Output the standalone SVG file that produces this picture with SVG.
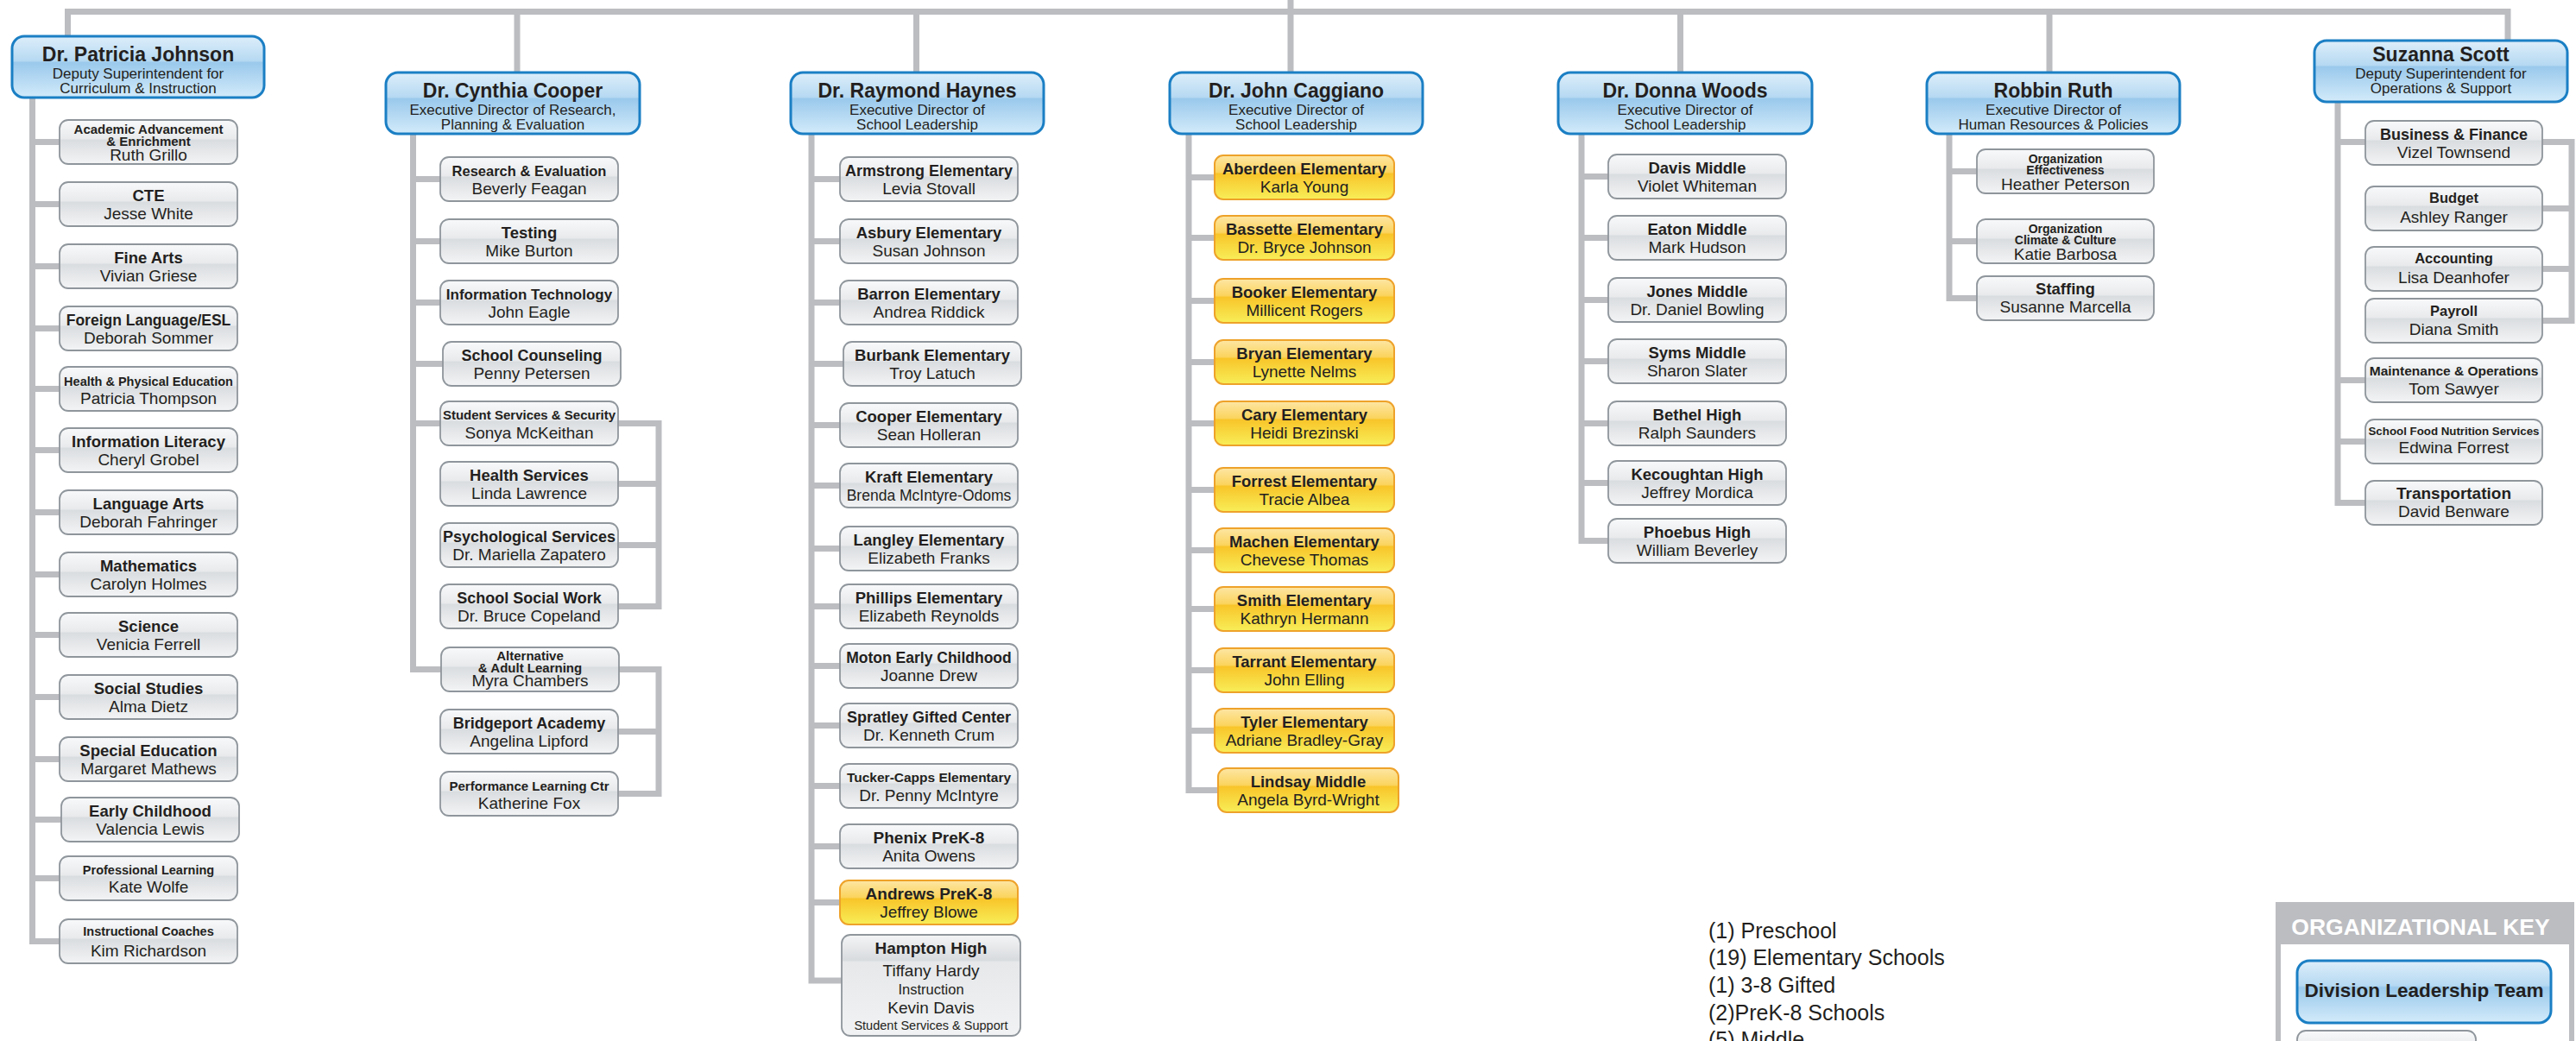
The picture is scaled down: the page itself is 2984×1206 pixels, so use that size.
<svg xmlns="http://www.w3.org/2000/svg" width="2984" height="1206" viewBox="0 0 2984 1206">
<defs>
<linearGradient id="gGray" x1="0" y1="0" x2="0" y2="1">
<stop offset="0" stop-color="#f8f9fa"/><stop offset="0.42" stop-color="#e8eaec"/><stop offset="0.46" stop-color="#dadde0"/><stop offset="1" stop-color="#f3f4f5"/>
</linearGradient>
<linearGradient id="gYel" x1="0" y1="0" x2="0" y2="1">
<stop offset="0" stop-color="#fde6a4"/><stop offset="0.38" stop-color="#fbd45e"/><stop offset="0.42" stop-color="#f8c52a"/><stop offset="1" stop-color="#f8ee58"/>
</linearGradient>
<linearGradient id="gBlue" x1="0" y1="0" x2="0" y2="1">
<stop offset="0" stop-color="#ddeefa"/><stop offset="0.4" stop-color="#b6d9f2"/><stop offset="0.43" stop-color="#9ac9ec"/><stop offset="1" stop-color="#d3ebfa"/>
</linearGradient>
<linearGradient id="gHamp" x1="0" y1="0" x2="0" y2="1">
<stop offset="0" stop-color="#f4f5f6"/><stop offset="0.25" stop-color="#d8dbde"/><stop offset="0.27" stop-color="#e6e8ea"/><stop offset="1" stop-color="#f1f2f3"/>
</linearGradient>
<style>
.ln{fill:none;stroke:#bcbdc1;stroke-width:7;stroke-linejoin:miter;stroke-linecap:butt}
.b{fill:url(#gBlue);stroke:#1b7fc4;stroke-width:3}
.g{fill:url(#gGray);stroke:#8f969c;stroke-width:1.8}
.y{fill:url(#gYel);stroke:#eea22a;stroke-width:2}
.h{fill:url(#gHamp);stroke:#8f969c;stroke-width:1.8}
text{font-family:"Liberation Sans",Arial,sans-serif;fill:#231f20;text-anchor:middle}
.dn{font-size:23px;font-weight:bold}
.ds{font-size:17px}
.t{font-size:18.5px;font-weight:bold}
.ts{font-size:15px;font-weight:bold}
.tx{font-size:14px;font-weight:bold}
.n{font-size:19px}
.leg{font-size:25px;text-anchor:start}
</style>
</defs>
<rect width="2984" height="1206" fill="#ffffff"/>

<g id="connectors">
<path class="ln" d="M78.5,42 V13.5 H2905 V47"/>
<path class="ln" d="M599,13.5 V84 M1061.5,13.5 V84 M1495,0 V84 M1946.5,13.5 V84 M2374,13.5 V84"/>
<path class="ln" d="M37.5,113 V1090.5 H69 M34,164.5 H69 M34,236.5 H69 M34,308.5 H69 M34,380.5 H69 M34,450.5 H69 M34,521.5 H69 M34,593.5 H69 M34,665.5 H69 M34,735.5 H69 M34,807.5 H69 M34,879.5 H69 M34,949.5 H71 M34,1017.5 H69"/>
<path class="ln" d="M478.5,155 V775.5 H511 M475,207.5 H510 M475,279.5 H510 M475,350.5 H510 M475,421.5 H513 M475,490.5 H510"/>
<path class="ln" d="M716,490.5 H763 V702.5 H716 M716,560.5 H763 M716,631.5 H763 M716,775.5 H763 V919.5 H716 M716,847.5 H763"/>
<path class="ln" d="M940,155 V1136 H975 M936.5,207.5 H973 M936.5,279.5 H973 M936.5,350.5 H973 M936.5,421.5 H977 M936.5,492.5 H973 M936.5,562.5 H973 M936.5,635.5 H973 M936.5,702.5 H973 M936.5,771.5 H973 M936.5,840.5 H973 M936.5,910.5 H973 M936.5,980.5 H973 M936.5,1045.5 H973"/>
<path class="ln" d="M1377,155 V915.5 H1411 M1373.5,205.5 H1407 M1373.5,275.5 H1407 M1373.5,348.5 H1407 M1373.5,419.5 H1407 M1373.5,490.5 H1407 M1373.5,567.5 H1407 M1373.5,637.5 H1407 M1373.5,705.5 H1407 M1373.5,776.5 H1407 M1373.5,846.5 H1407"/>
<path class="ln" d="M1832,155 V626.5 H1863 M1828.5,204.5 H1863 M1828.5,275.5 H1863 M1828.5,347.5 H1863 M1828.5,418.5 H1863 M1828.5,490.5 H1863 M1828.5,559.5 H1863"/>
<path class="ln" d="M2258,155 V345.5 H2290 M2254.5,198.5 H2290 M2254.5,279.5 H2290"/>
<path class="ln" d="M2708,118 V582.5 H2740 M2704.5,164.5 H2740 M2704.5,440.5 H2740 M2704.5,511.5 H2740"/>
<path class="ln" d="M2945,164.5 H2979 V371.5 H2945 M2945,241.5 H2979 M2945,311.5 H2979"/>
</g>

<g id="n-patricia-johnson"><rect class="b" x="14" y="42" width="292" height="71" rx="14"/><text class="dn" x="160" y="71">Dr. Patricia Johnson</text><text class="ds" x="160" y="91">Deputy Superintendent for</text><text class="ds" x="160" y="108">Curriculum &amp; Instruction</text></g>
<g id="n-cynthia-cooper"><rect class="b" x="447" y="84" width="294" height="71" rx="14"/><text class="dn" x="594" y="113">Dr. Cynthia Cooper</text><text class="ds" x="594" y="133">Executive Director of Research,</text><text class="ds" x="594" y="150">Planning &amp; Evaluation</text></g>
<g id="n-raymond-haynes"><rect class="b" x="916" y="84" width="293" height="71" rx="14"/><text class="dn" x="1062.5" y="113">Dr. Raymond Haynes</text><text class="ds" x="1062.5" y="133">Executive Director of</text><text class="ds" x="1062.5" y="150">School Leadership</text></g>
<g id="n-john-caggiano"><rect class="b" x="1355" y="84" width="293" height="71" rx="14"/><text class="dn" x="1501.5" y="113">Dr. John Caggiano</text><text class="ds" x="1501.5" y="133">Executive Director of</text><text class="ds" x="1501.5" y="150">School Leadership</text></g>
<g id="n-donna-woods"><rect class="b" x="1805" y="84" width="294" height="71" rx="14"/><text class="dn" x="1952" y="113">Dr. Donna Woods</text><text class="ds" x="1952" y="133">Executive Director of</text><text class="ds" x="1952" y="150">School Leadership</text></g>
<g id="n-robbin-ruth"><rect class="b" x="2232" y="84" width="293" height="71" rx="14"/><text class="dn" x="2378.5" y="113">Robbin Ruth</text><text class="ds" x="2378.5" y="133">Executive Director of</text><text class="ds" x="2378.5" y="150">Human Resources &amp; Policies</text></g>
<g id="n-suzanna-scott"><rect class="b" x="2681" y="47" width="293" height="71" rx="14"/><text class="dn" x="2827.5" y="71">Suzanna Scott</text><text class="ds" x="2827.5" y="91">Deputy Superintendent for</text><text class="ds" x="2827.5" y="108">Operations &amp; Support</text></g>

<g id="n-academic"><rect class="g" x="69" y="139" width="206" height="51" rx="10"/><text class="ts" x="172" y="155">Academic Advancement</text><text class="ts" x="172" y="169">&amp; Enrichment</text><text class="n" x="172" y="186">Ruth Grillo</text></g>
<g id="n-cte"><rect class="g" x="69" y="211" width="206" height="51" rx="10"/><text class="t" x="172" y="233">CTE</text><text class="n" x="172" y="254">Jesse White</text></g>
<g id="n-fine-arts"><rect class="g" x="69" y="283" width="206" height="51" rx="10"/><text class="t" x="172" y="305">Fine Arts</text><text class="n" x="172" y="326">Vivian Griese</text></g>
<g id="n-foreign-language"><rect class="g" x="69" y="355" width="206" height="51" rx="10"/><text class="t" x="172" y="377" style="font-size:17.5px">Foreign Language/ESL</text><text class="n" x="172" y="398">Deborah Sommer</text></g>
<g id="n-health-pe"><rect class="g" x="69" y="425" width="206" height="51" rx="10"/><text class="t" x="172" y="447" style="font-size:14.5px">Health &amp; Physical Education</text><text class="n" x="172" y="468">Patricia Thompson</text></g>
<g id="n-info-literacy"><rect class="g" x="69" y="496" width="206" height="51" rx="10"/><text class="t" x="172" y="518">Information Literacy</text><text class="n" x="172" y="539">Cheryl Grobel</text></g>
<g id="n-language-arts"><rect class="g" x="69" y="568" width="206" height="51" rx="10"/><text class="t" x="172" y="590">Language Arts</text><text class="n" x="172" y="611">Deborah Fahringer</text></g>
<g id="n-mathematics"><rect class="g" x="69" y="640" width="206" height="51" rx="10"/><text class="t" x="172" y="662">Mathematics</text><text class="n" x="172" y="683">Carolyn Holmes</text></g>
<g id="n-science"><rect class="g" x="69" y="710" width="206" height="51" rx="10"/><text class="t" x="172" y="732">Science</text><text class="n" x="172" y="753">Venicia Ferrell</text></g>
<g id="n-social-studies"><rect class="g" x="69" y="782" width="206" height="51" rx="10"/><text class="t" x="172" y="804">Social Studies</text><text class="n" x="172" y="825">Alma Dietz</text></g>
<g id="n-special-education"><rect class="g" x="69" y="854" width="206" height="51" rx="10"/><text class="t" x="172" y="876">Special Education</text><text class="n" x="172" y="897">Margaret Mathews</text></g>
<g id="n-early-childhood"><rect class="g" x="71" y="924" width="206" height="51" rx="10"/><text class="t" x="174" y="946">Early Childhood</text><text class="n" x="174" y="967">Valencia Lewis</text></g>
<g id="n-professional-learning"><rect class="g" x="69" y="992" width="206" height="51" rx="10"/><text class="t" x="172" y="1013" style="font-size:14.5px">Professional Learning</text><text class="n" x="172" y="1034">Kate Wolfe</text></g>
<g id="n-instructional-coaches"><rect class="g" x="69" y="1065" width="206" height="51" rx="10"/><text class="t" x="172" y="1084" style="font-size:14.5px">Instructional Coaches</text><text class="n" x="172" y="1108">Kim Richardson</text></g>

<g id="n-research"><rect class="g" x="510" y="182" width="206" height="51" rx="10"/><text class="t" x="613" y="204" style="font-size:16.5px">Research &amp; Evaluation</text><text class="n" x="613" y="225">Beverly Feagan</text></g>
<g id="n-testing"><rect class="g" x="510" y="254" width="206" height="51" rx="10"/><text class="t" x="613" y="276">Testing</text><text class="n" x="613" y="297">Mike Burton</text></g>
<g id="n-info-tech"><rect class="g" x="510" y="325" width="206" height="51" rx="10"/><text class="t" x="613" y="347" style="font-size:17px">Information Technology</text><text class="n" x="613" y="368">John Eagle</text></g>
<g id="n-counseling"><rect class="g" x="513" y="396" width="206" height="51" rx="10"/><text class="t" x="616" y="418" style="font-size:18px">School Counseling</text><text class="n" x="616" y="439">Penny Petersen</text></g>
<g id="n-student-services"><rect class="g" x="510" y="465" width="206" height="51" rx="10"/><text class="t" x="613" y="486" style="font-size:15px">Student Services &amp; Security</text><text class="n" x="613" y="508">Sonya McKeithan</text></g>
<g id="n-health-services"><rect class="g" x="510" y="535" width="206" height="51" rx="10"/><text class="t" x="613" y="557">Health Services</text><text class="n" x="613" y="578">Linda Lawrence</text></g>
<g id="n-psychological"><rect class="g" x="510" y="606" width="206" height="51" rx="10"/><text class="t" x="613" y="628" style="font-size:18px">Psychological Services</text><text class="n" x="613" y="649">Dr. Mariella Zapatero</text></g>
<g id="n-social-work"><rect class="g" x="510" y="677" width="206" height="51" rx="10"/><text class="t" x="613" y="699" style="font-size:18px">School Social Work</text><text class="n" x="613" y="720">Dr. Bruce Copeland</text></g>
<g id="n-alternative"><rect class="g" x="511" y="750" width="206" height="51" rx="10"/><text class="ts" x="614" y="764.5">Alternative</text><text class="ts" x="614" y="778.5">&amp; Adult Learning</text><text class="n" x="614" y="795">Myra Chambers</text></g>
<g id="n-bridgeport"><rect class="g" x="510" y="822" width="206" height="51" rx="10"/><text class="t" x="613" y="844" style="font-size:18px">Bridgeport Academy</text><text class="n" x="613" y="865">Angelina Lipford</text></g>
<g id="n-performance"><rect class="g" x="510" y="894" width="206" height="51" rx="10"/><text class="t" x="613" y="916" style="font-size:15px">Performance Learning Ctr</text><text class="n" x="613" y="937">Katherine Fox</text></g>

<g id="n-armstrong"><rect class="g" x="973" y="182" width="206" height="51" rx="10"/><text class="t" x="1076" y="204" style="font-size:18px">Armstrong Elementary</text><text class="n" x="1076" y="225">Levia Stovall</text></g>
<g id="n-asbury"><rect class="g" x="973" y="254" width="206" height="51" rx="10"/><text class="t" x="1076" y="276">Asbury Elementary</text><text class="n" x="1076" y="297">Susan Johnson</text></g>
<g id="n-barron"><rect class="g" x="973" y="325" width="206" height="51" rx="10"/><text class="t" x="1076" y="347">Barron Elementary</text><text class="n" x="1076" y="368">Andrea Riddick</text></g>
<g id="n-burbank"><rect class="g" x="977" y="396" width="206" height="51" rx="10"/><text class="t" x="1080" y="418">Burbank Elementary</text><text class="n" x="1080" y="439">Troy Latuch</text></g>
<g id="n-cooper-elem"><rect class="g" x="973" y="467" width="206" height="51" rx="10"/><text class="t" x="1076" y="489">Cooper Elementary</text><text class="n" x="1076" y="510">Sean Holleran</text></g>
<g id="n-kraft"><rect class="g" x="973" y="537" width="206" height="51" rx="10"/><text class="t" x="1076" y="559">Kraft Elementary</text><text class="n" x="1076" y="580" style="font-size:17.5px">Brenda McIntyre-Odoms</text></g>
<g id="n-langley"><rect class="g" x="973" y="610" width="206" height="51" rx="10"/><text class="t" x="1076" y="632">Langley Elementary</text><text class="n" x="1076" y="653">Elizabeth Franks</text></g>
<g id="n-phillips"><rect class="g" x="973" y="677" width="206" height="51" rx="10"/><text class="t" x="1076" y="699">Phillips Elementary</text><text class="n" x="1076" y="720">Elizabeth Reynolds</text></g>
<g id="n-moton"><rect class="g" x="973" y="746" width="206" height="51" rx="10"/><text class="t" x="1076" y="768" style="font-size:17.5px">Moton Early Childhood</text><text class="n" x="1076" y="789">Joanne Drew</text></g>
<g id="n-spratley"><rect class="g" x="973" y="815" width="206" height="51" rx="10"/><text class="t" x="1076" y="837" style="font-size:18px">Spratley Gifted Center</text><text class="n" x="1076" y="858">Dr. Kenneth Crum</text></g>
<g id="n-tucker-capps"><rect class="g" x="973" y="885" width="206" height="51" rx="10"/><text class="t" x="1076" y="906" style="font-size:15.5px">Tucker-Capps Elementary</text><text class="n" x="1076" y="928">Dr. Penny McIntyre</text></g>
<g id="n-phenix"><rect class="g" x="973" y="955" width="206" height="51" rx="10"/><text class="t" x="1076" y="977" style="font-size:19px">Phenix PreK-8</text><text class="n" x="1076" y="998">Anita Owens</text></g>
<g id="n-andrews"><rect class="y" x="973" y="1020" width="206" height="51" rx="10"/><text class="t" x="1076" y="1042" style="font-size:19px">Andrews PreK-8</text><text class="n" x="1076" y="1063">Jeffrey Blowe</text></g>
<g id="n-hampton"><rect class="h" x="975" y="1083" width="207" height="117" rx="10"/><text class="t" x="1078.5" y="1104.5" style="font-size:19px">Hampton High</text><text class="n" x="1078.5" y="1131">Tiffany Hardy</text><text class="n" x="1078.5" y="1152" style="font-size:16.5px">Instruction</text><text class="n" x="1078.5" y="1174">Kevin Davis</text><text class="n" x="1078.5" y="1193" style="font-size:14.5px">Student Services &amp; Support</text></g>

<g id="n-aberdeen"><rect class="y" x="1407" y="180" width="208" height="51" rx="10"/><text class="t" x="1511" y="202">Aberdeen Elementary</text><text class="n" x="1511" y="223">Karla Young</text></g>
<g id="n-bassette"><rect class="y" x="1407" y="250" width="208" height="51" rx="10"/><text class="t" x="1511" y="272">Bassette Elementary</text><text class="n" x="1511" y="293">Dr. Bryce Johnson</text></g>
<g id="n-booker"><rect class="y" x="1407" y="323" width="208" height="51" rx="10"/><text class="t" x="1511" y="345">Booker Elementary</text><text class="n" x="1511" y="366">Millicent Rogers</text></g>
<g id="n-bryan"><rect class="y" x="1407" y="394" width="208" height="51" rx="10"/><text class="t" x="1511" y="416">Bryan Elementary</text><text class="n" x="1511" y="437">Lynette Nelms</text></g>
<g id="n-cary"><rect class="y" x="1407" y="465" width="208" height="51" rx="10"/><text class="t" x="1511" y="487">Cary Elementary</text><text class="n" x="1511" y="508">Heidi Brezinski</text></g>
<g id="n-forrest"><rect class="y" x="1407" y="542" width="208" height="51" rx="10"/><text class="t" x="1511" y="564">Forrest Elementary</text><text class="n" x="1511" y="585">Tracie Albea</text></g>
<g id="n-machen"><rect class="y" x="1407" y="612" width="208" height="51" rx="10"/><text class="t" x="1511" y="634">Machen Elementary</text><text class="n" x="1511" y="655">Chevese Thomas</text></g>
<g id="n-smith"><rect class="y" x="1407" y="680" width="208" height="51" rx="10"/><text class="t" x="1511" y="702">Smith Elementary</text><text class="n" x="1511" y="723">Kathryn Hermann</text></g>
<g id="n-tarrant"><rect class="y" x="1407" y="751" width="208" height="51" rx="10"/><text class="t" x="1511" y="773">Tarrant Elementary</text><text class="n" x="1511" y="794">John Elling</text></g>
<g id="n-tyler"><rect class="y" x="1407" y="821" width="208" height="51" rx="10"/><text class="t" x="1511" y="843">Tyler Elementary</text><text class="n" x="1511" y="864">Adriane Bradley-Gray</text></g>
<g id="n-lindsay"><rect class="y" x="1411" y="890" width="209" height="51" rx="10"/><text class="t" x="1515.5" y="912">Lindsay Middle</text><text class="n" x="1515.5" y="933">Angela Byrd-Wright</text></g>

<g id="n-davis"><rect class="g" x="1863" y="179" width="206" height="51" rx="10"/><text class="t" x="1966" y="201">Davis Middle</text><text class="n" x="1966" y="222">Violet Whiteman</text></g>
<g id="n-eaton"><rect class="g" x="1863" y="250" width="206" height="51" rx="10"/><text class="t" x="1966" y="272">Eaton Middle</text><text class="n" x="1966" y="293">Mark Hudson</text></g>
<g id="n-jones"><rect class="g" x="1863" y="322" width="206" height="51" rx="10"/><text class="t" x="1966" y="344">Jones Middle</text><text class="n" x="1966" y="365">Dr. Daniel Bowling</text></g>
<g id="n-syms"><rect class="g" x="1863" y="393" width="206" height="51" rx="10"/><text class="t" x="1966" y="415">Syms Middle</text><text class="n" x="1966" y="436">Sharon Slater</text></g>
<g id="n-bethel"><rect class="g" x="1863" y="465" width="206" height="51" rx="10"/><text class="t" x="1966" y="487">Bethel High</text><text class="n" x="1966" y="508">Ralph Saunders</text></g>
<g id="n-kecoughtan"><rect class="g" x="1863" y="534" width="206" height="51" rx="10"/><text class="t" x="1966" y="556">Kecoughtan High</text><text class="n" x="1966" y="577">Jeffrey Mordica</text></g>
<g id="n-phoebus"><rect class="g" x="1863" y="601" width="206" height="51" rx="10"/><text class="t" x="1966" y="623">Phoebus High</text><text class="n" x="1966" y="644">William Beverley</text></g>

<g id="n-org-effectiveness"><rect class="g" x="2290" y="173" width="205" height="51" rx="10"/><text class="tx" x="2392.5" y="189">Organization</text><text class="tx" x="2392.5" y="202">Effectiveness</text><text class="n" x="2392.5" y="220">Heather Peterson</text></g>
<g id="n-org-climate"><rect class="g" x="2290" y="254" width="205" height="51" rx="10"/><text class="tx" x="2392.5" y="270">Organization</text><text class="tx" x="2392.5" y="283">Climate &amp; Culture</text><text class="n" x="2392.5" y="301">Katie Barbosa</text></g>
<g id="n-staffing"><rect class="g" x="2290" y="320" width="205" height="51" rx="10"/><text class="t" x="2392.5" y="341">Staffing</text><text class="n" x="2392.5" y="362">Susanne Marcella</text></g>

<g id="n-business-finance"><rect class="g" x="2740" y="140" width="205" height="51" rx="10"/><text class="t" x="2842.5" y="162" style="font-size:18px">Business &amp; Finance</text><text class="n" x="2842.5" y="183">Vizel Townsend</text></g>
<g id="n-budget"><rect class="g" x="2740" y="216" width="205" height="51" rx="10"/><text class="t" x="2842.5" y="235" style="font-size:16.5px">Budget</text><text class="n" x="2842.5" y="258">Ashley Ranger</text></g>
<g id="n-accounting"><rect class="g" x="2740" y="286" width="205" height="51" rx="10"/><text class="t" x="2842.5" y="305" style="font-size:16.5px">Accounting</text><text class="n" x="2842.5" y="328">Lisa Deanhofer</text></g>
<g id="n-payroll"><rect class="g" x="2740" y="346" width="205" height="51" rx="10"/><text class="t" x="2842.5" y="366" style="font-size:16.5px">Payroll</text><text class="n" x="2842.5" y="388">Diana Smith</text></g>
<g id="n-maintenance"><rect class="g" x="2740" y="415" width="205" height="51" rx="10"/><text class="t" x="2842.5" y="435" style="font-size:15.5px">Maintenance &amp; Operations</text><text class="n" x="2842.5" y="457">Tom Sawyer</text></g>
<g id="n-food"><rect class="g" x="2740" y="486" width="205" height="51" rx="10"/><text class="t" x="2842.5" y="504" style="font-size:13.3px">School Food Nutrition Services</text><text class="n" x="2842.5" y="525">Edwina Forrest</text></g>
<g id="n-transportation"><rect class="g" x="2740" y="557" width="205" height="51" rx="10"/><text class="t" x="2842.5" y="578" style="font-size:19px">Transportation</text><text class="n" x="2842.5" y="599">David Benware</text></g>

<g id="counts">
<text class="leg" x="1979" y="1087">(1) Preschool</text>
<text class="leg" x="1979" y="1118">(19) Elementary Schools</text>
<text class="leg" x="1979" y="1150">(1) 3-8 Gifted</text>
<text class="leg" x="1979" y="1182">(2)PreK-8 Schools</text>
<text class="leg" x="1979" y="1213">(5) Middle</text>
</g>

<g id="key">
<rect x="2639" y="1048" width="340" height="220" fill="#ffffff" stroke="#bcbdc1" stroke-width="6"/>
<rect x="2636" y="1045" width="346" height="49" fill="#bcbdc1"/>
<text x="2804" y="1083" style="font-size:26.5px;font-weight:bold;fill:#ffffff">ORGANIZATIONAL KEY</text>
<g id="key-leadership"><rect class="b" x="2661" y="1113" width="294" height="72" rx="14"/><text x="2808" y="1155" style="font-size:22.5px;font-weight:bold">Division Leadership Team</text></g>
<g id="key-department"><rect class="g" x="2661" y="1194" width="207" height="51" rx="10"/></g>
</g>
</svg>
